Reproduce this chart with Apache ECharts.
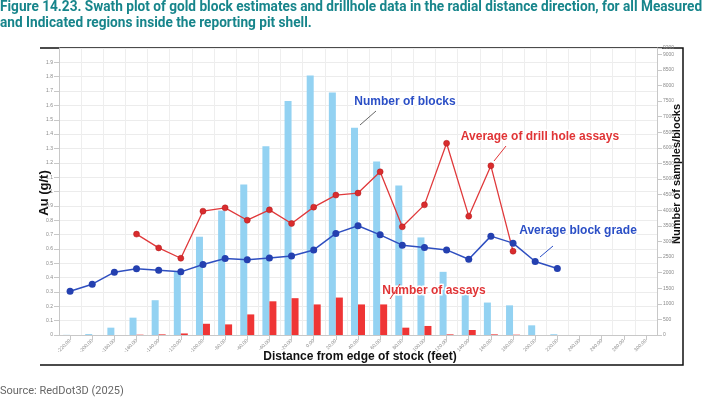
<!DOCTYPE html>
<html>
<head>
<meta charset="UTF-8">
<title>Swath plot</title>
<style>
  html, body { margin: 0; padding: 0; background: #fff; }
  #main { width: 722px; height: 399px; }
</style>
<script src="https://cdn.jsdelivr.net/npm/echarts@6/dist/echarts.min.js"></script>
</head>
<body>
<div id="main"></div>
<script>
// distance bins (feet) - labels are tiny in the source, best guess
var distLabels = [];
var distStart = -220;
for (var i = 0; i < 27; i++) {
    distLabels.push((distStart + i * 20).toFixed(2));
}

// number of blocks per bin (right axis)
var blocks = [5, 30, 235, 556, 1115, 2035, 3150, 3987, 4822, 6054, 7500, 8317, 7770, 6645,
              5562, 4790, 3128, 2025, 1300, 1040, 950, 310, 25, null, null, null, null];
// number of assays per bin (right axis)
var assays = [null, null, null, 10, 20, 50, 360, 340, 660, 1080, 1180, 980, 1200, 980,
              980, 235, 290, 20, 160, 20, 10, null, null, null, null, null, null];
// average block grade Au g/t (left axis)
var blockGrade = [0.305, 0.354, 0.438, 0.461, 0.452, 0.440, 0.491, 0.533, 0.525, 0.537, 0.551,
                  0.593, 0.708, 0.761, 0.698, 0.626, 0.610, 0.593, 0.528, 0.689, 0.640, 0.512,
                  0.463, null, null, null, null];
// average of drill hole assays Au g/t (left axis)
var assayGrade = [null, null, null, 0.703, 0.607, 0.535, 0.863, 0.886, 0.800, 0.872, 0.777,
                  0.891, 0.975, 0.989, 1.137, 0.754, 0.907, 1.336, 0.828, 1.179, 0.584,
                  null, null, null, null, null, null];

var titleLines = [
    'Figure 14.23. Swath plot of gold block estimates and drillhole data in the radial distance direction, for all Measured',
    'and Indicated regions inside the reporting pit shell.'
];

var boldFont = 'bold 12px "Liberation Sans", Arial';
var blueTxt = '#2b4fc6', redTxt = '#e03436';

function note(x, y, text, color) {
    return { type: 'text', x: x, y: y, z: 100,
        style: { text: text, font: boldFont, fill: color, align: 'center', verticalAlign: 'middle',
                 stroke: '#fff', lineWidth: 3 } };
}
function leader(x1, y1, x2, y2, color) {
    return { type: 'line', z: 100, shape: { x1: x1, y1: y1, x2: x2, y2: y2 }, style: { stroke: color, lineWidth: 1 } };
}

var myChart = echarts.init(document.getElementById('main'));
myChart.setOption({
    animation: false,
    grid: { left: 59, right: 65, top: 48, bottom: 64 },
    xAxis: {
        type: 'category',
        data: distLabels,
        boundaryGap: true,
        axisLine: { lineStyle: { color: '#c8c8c8' } },
        axisTick: { show: true, alignWithLabel: true, lineStyle: { color: '#c8c8c8' } },
        axisLabel: { rotate: 45, interval: 0, fontSize: 5, color: '#8a8a8a', margin: 5 },
        splitLine: { show: true, lineStyle: { color: '#eeeeee' } }
    },
    yAxis: [{
        type: 'value', min: 0, max: 2, interval: 0.1,
        axisLine: { show: true, lineStyle: { color: '#c8c8c8' } },
        axisTick: { show: true, lineStyle: { color: '#c8c8c8' } },
        axisLabel: { fontSize: 5, color: '#8a8a8a', showMaxLabel: false, margin: 6 },
        splitLine: { lineStyle: { color: '#ececec' } }
    }, {
        type: 'value', min: 0, max: 9200, interval: 500,
        axisLine: { show: true, lineStyle: { color: '#c8c8c8' } },
        axisTick: { show: true, lineStyle: { color: '#c8c8c8' } },
        axisLabel: { fontSize: 5, color: '#8a8a8a', margin: 6, formatter: function (v) { return String(v); } },
        splitLine: { show: false }
    }],
    series: [{
        name: 'Number of blocks',
        type: 'bar',
        yAxisIndex: 1,
        data: blocks,
        barWidth: 7,
        barGap: '0%',
        itemStyle: { color: '#93d2f2' }
    }, {
        name: 'Number of assays',
        type: 'bar',
        yAxisIndex: 1,
        data: assays,
        barWidth: 7,
        itemStyle: { color: '#ef3535' }
    }, {
        name: 'Average block grade',
        type: 'line',
        yAxisIndex: 0,
        data: blockGrade,
        symbol: 'circle',
        symbolSize: 7,
        lineStyle: { color: '#2f4fc0', width: 1.5 },
        itemStyle: { color: '#2440b0' }
    }, {
        name: 'Average of drill hole assays',
        type: 'line',
        yAxisIndex: 0,
        data: assayGrade,
        symbol: 'circle',
        symbolSize: 6,
        lineStyle: { color: '#e0393b', width: 1.3 },
        itemStyle: { color: '#d92c2e', borderColor: '#b01818', borderWidth: 0.5 }
    }],
    graphic: [
        // title
        { type: 'text', left: 0, top: 0, style: { text: titleLines[0], font: 'bold 14px Roboto', fill: '#17858b' }, scaleX: 0.975 },
        { type: 'text', left: 0, top: 16, style: { text: titleLines[1], font: 'bold 14px Roboto', fill: '#17858b' }, scaleX: 0.975 },
        // frame
        { type: 'polyline', shape: { points: [[40, 48], [683, 48], [683, 365], [40, 365]] },
          style: { stroke: '#111', lineWidth: 1.5, fill: null } },
        // axis titles
        { type: 'text', x: 44, y: 193, rotation: Math.PI / 2,
          style: { text: 'Au (g/t)', font: 'bold 13px "Liberation Sans", Arial', fill: '#111', align: 'center', verticalAlign: 'middle' } },
        { type: 'text', x: 677, y: 174, rotation: Math.PI / 2,
          style: { text: 'Number of samples/blocks', font: 'bold 11px "Liberation Sans", Arial', fill: '#111', align: 'center', verticalAlign: 'middle' } },
        { type: 'text', x: 360, y: 357,
          style: { text: 'Distance from edge of stock (feet)', font: boldFont, fill: '#111', align: 'center', verticalAlign: 'middle' } },
        // annotations
        note(405, 102, 'Number of blocks', blueTxt),
        leader(376, 111, 360, 125, '#666'),
        note(540, 137, 'Average of drill hole assays', redTxt),
        leader(506, 146, 494, 161, redTxt),
        note(578, 231, 'Average block grade', blueTxt),
        leader(553, 246, 540, 257, blueTxt),
        note(434, 291, 'Number of assays', redTxt),
        leader(400, 284, 390, 299, redTxt),
        // source
        { type: 'text', left: 0, top: 386, style: { text: 'Source: RedDot3D (2025)', font: '11px Roboto', fill: '#666' } }
    ]
});
</script>
</body>
</html>
